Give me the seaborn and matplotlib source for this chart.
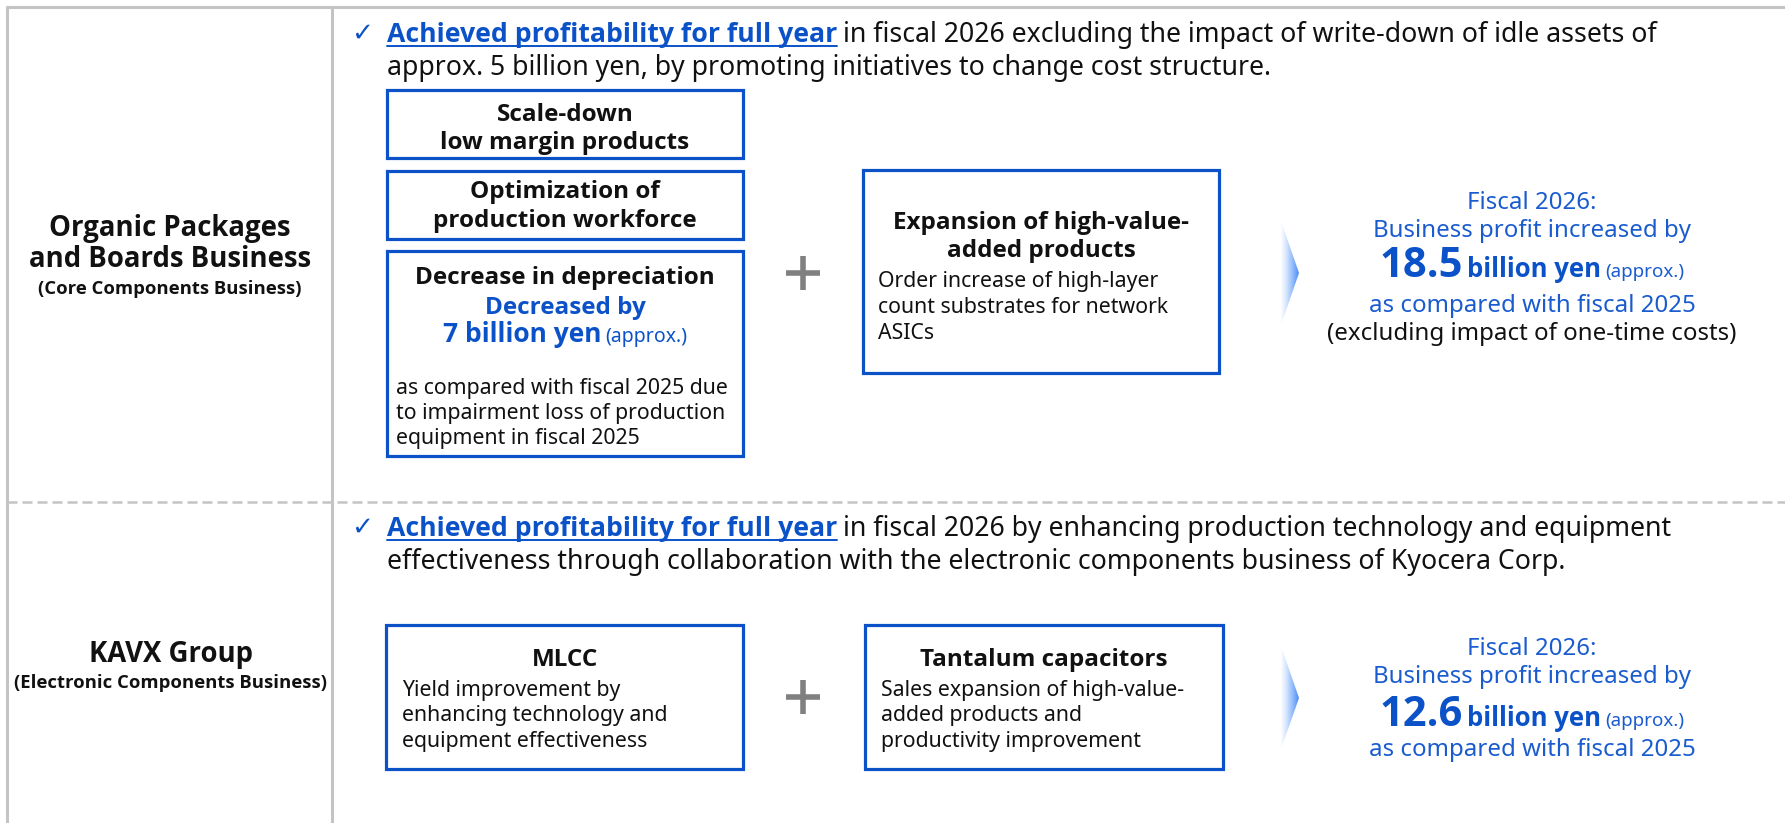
"""
Fiscal 2026 profit improvement overview (diagram)
"""
import numpy as np
import matplotlib
matplotlib.use("Agg")
import matplotlib.pyplot as plt
import seaborn as sns
from matplotlib import font_manager
from matplotlib.patches import Rectangle, Polygon

# --- contenu ---
sections = ["Organic Packages\nand Boards Business", "KAVX Group"]
section_subs = ["(Core Components Business)", "(Electronic Components Business)"]

headline = "Achieved profitability for full year"
header_rest = [
    ["in fiscal 2026 excluding the impact of write-down of idle assets of",
     "approx. 5 billion yen, by promoting initiatives to change cost structure."],
    ["in fiscal 2026 by enhancing production technology and equipment",
     "effectiveness through collaboration with the electronic components business of Kyocera Corp."],
]

cost_titles = ["Scale-down\nlow margin products", "Optimization of\nproduction workforce",
               "Decrease in depreciation"]
depr_amount = 7
depr_note = ["as compared with fiscal 2025 due", "to impairment loss of production",
             "equipment in fiscal 2025"]

growth_titles = ["Expansion of high-value-\nadded products", "MLCC", "Tantalum capacitors"]
growth_notes = [
    ["Order increase of high-layer", "count substrates for network", "ASICs"],
    ["Yield improvement by", "enhancing technology and", "equipment effectiveness"],
    ["Sales expansion of high-value-", "added products and", "productivity improvement"],
]

profit_increase = [18.5, 12.6]
profit_extra = ["(excluding impact of one-time costs)", None]

BLUE = "#0b52c9"
BLUE2 = "#1a5ccf"
GRAY = "#c4c4c4"
BLACK = "#111111"

sns.set_style("white")
plt.rcParams["font.family"] = ["Noto Sans", "DejaVu Sans"]


def bold_family():
    # Noto Sans n'a pas toujours de graisse grasse installée
    for fam in ["Noto Sans", "Open Sans", "Lato", "DejaVu Sans"]:
        try:
            path = font_manager.findfont(font_manager.FontProperties(family=fam, weight="bold"),
                                         fallback_to_default=False)
        except Exception:
            continue
        if "bold" in path.lower():
            return fam
    return "DejaVu Sans"


BOLD = bold_family()

W, H = 1785, 823
fig = plt.figure(figsize=(W / 100, H / 100), dpi=100)
ax = fig.add_axes([0, 0, 1, 1])
ax.set_xlim(0, W)
ax.set_ylim(H, 0)
ax.axis("off")
renderer = fig.canvas.get_renderer()


def txt(x, y, s, size, bold=False, color=BLACK, ha="left"):
    fam = [BOLD, "DejaVu Sans"] if bold else ["Noto Sans", "DejaVu Sans"]
    return ax.text(x, y, s, fontsize=size, fontweight="bold" if bold else "normal",
                   family=fam, color=color, ha=ha, va="baseline")


def run(x, y, parts, ha="left", gap=5):
    """Ecrit plusieurs morceaux de texte sur une même ligne de base"""
    objs = [txt(0, y, s, size, bold, color) for s, size, bold, color, ul in parts]
    widths = [o.get_window_extent(renderer=renderer).width for o in objs]
    total = sum(widths) + gap * (len(objs) - 1)
    cx = x - total / 2 if ha == "center" else x
    for o, w, p in zip(objs, widths, parts):
        o.set_x(cx)
        if p[4]:
            ax.plot([cx, cx + w], [y + 3.5, y + 3.5], color=p[3], lw=1.4)
        cx += w + gap


def box(x0, y0, x1, y1):
    ax.add_patch(Rectangle((x0, y0), x1 - x0, y1 - y0, fill=False,
                           edgecolor=BLUE, lw=2.3))


def plus(cx, cy):
    ax.plot([cx - 17, cx + 17], [cy, cy], color="#808080", lw=4, solid_capstyle="butt")
    ax.plot([cx, cx], [cy - 17, cy + 17], color="#808080", lw=4, solid_capstyle="butt")


def chevron(x0, y0, tip, y1):
    grad = np.zeros((2, 64, 4))
    grad[..., 0] = 0.29
    grad[..., 1] = 0.55
    grad[..., 2] = 0.97
    grad[..., 3] = np.linspace(0.0, 1.0, 64) ** 1.3
    poly = Polygon([(x0, y0), (x0 + tip[0], tip[1]), (x0, y1)], closed=True,
                   facecolor="none", edgecolor="none")
    ax.add_patch(poly)
    im = ax.imshow(grad, extent=[x0, x0 + tip[0], y1, y0], aspect="auto", zorder=2)
    im.set_clip_path(poly)


# cadre
ax.plot([7, W], [7, 7], color=GRAY, lw=2.2)
ax.plot([7, 7], [7, H], color=GRAY, lw=2.2)
ax.plot([332, 332], [7, H], color=GRAY, lw=2.2)
ax.plot([7, W], [502, 502], color=GRAY, lw=1.8, dashes=(4, 2))
ax.set_xlim(0, W)
ax.set_ylim(H, 0)

# libellés des sections
lines0 = sections[0].split("\n")
txt(170, 236, lines0[0], 19.8, True, ha="center")
txt(170, 267, lines0[1], 19.8, True, ha="center")
txt(170, 294, section_subs[0], 13.3, True, ha="center")
txt(171, 662, sections[1], 19.8, True, ha="center")
txt(171, 688, section_subs[1], 13.3, True, ha="center")

# en-têtes
for i, (y1, y2) in enumerate([(42, 75), (536, 569)]):
    ax.text(362, y1 - 1, "\u2713", fontsize=19, color=BLUE, ha="center", va="baseline",
            family=["DejaVu Sans"])
    run(387, y1, [(headline, 19.2, True, BLUE, True),
                  (header_rest[i][0], 19.2, False, BLACK, False)], gap=6)
    txt(387, y2, header_rest[i][1], 19.2)

# partie haute : structure de coûts
box(387, 90, 743, 158)
box(387, 171, 743, 239)
box(387, 251, 743, 456)
for (b1, b2), title in zip([(121, 149), (198, 227)], cost_titles[:2]):
    t1, t2 = title.split("\n")
    txt(565, b1, t1, 17.5, True, ha="center")
    txt(565, b2, t2, 17.5, True, ha="center")
txt(565, 284, cost_titles[2], 17.5, True, ha="center")
txt(565, 314, "Decreased by", 17.5, True, BLUE, ha="center")
run(565, 342, [(f"{depr_amount} billion yen", 19, True, BLUE, False),
               ("(approx.)", 14, False, BLUE, False)], ha="center", gap=3)
for k, line in enumerate(depr_note):
    txt(396, 394 + 25 * k, line, 15.3)

plus(803, 273)
box(863, 170, 1219, 373)
g1, g2 = growth_titles[0].split("\n")
txt(1041, 229, g1, 17.5, True, ha="center")
txt(1041, 257, g2, 17.5, True, ha="center")
for k, line in enumerate(growth_notes[0]):
    txt(878, 287 + 26 * k, line, 15.3)

chevron(1280, 218, (19, 273), 328)

# partie basse
box(386, 625, 743, 769)
box(865, 625, 1223, 769)
txt(565, 666, growth_titles[1], 17.5, True, ha="center")
txt(1044, 666, growth_titles[2], 17.5, True, ha="center")
for k in range(3):
    txt(402, 696 + 25.5 * k, growth_notes[1][k], 15.3)
    txt(881, 696 + 25.5 * k, growth_notes[2][k], 15.3)
plus(803, 697)
chevron(1280, 643, (19, 698), 752)

# résultats
for val, extra, ys in zip(profit_increase, profit_extra,
                          [(209, 237, 277, 312, 340), (655, 683, 726, 756, None)]):
    txt(1532, ys[0], "Fiscal 2026:", 17.3, color=BLUE2, ha="center")
    txt(1532, ys[1], "Business profit increased by", 17.3, color=BLUE2, ha="center")
    run(1532, ys[2], [(f"{val}", 30, True, BLUE, False),
                      ("billion yen", 18.5, True, BLUE, False),
                      ("(approx.)", 13.5, False, BLUE2, False)], ha="center", gap=4)
    txt(1532, ys[3], "as compared with fiscal 2025", 17.3, color=BLUE2, ha="center")
    if extra:
        txt(1532, ys[4], extra, 17.3, ha="center")

fig.savefig("out.png", dpi=100)
plt.close(fig)
